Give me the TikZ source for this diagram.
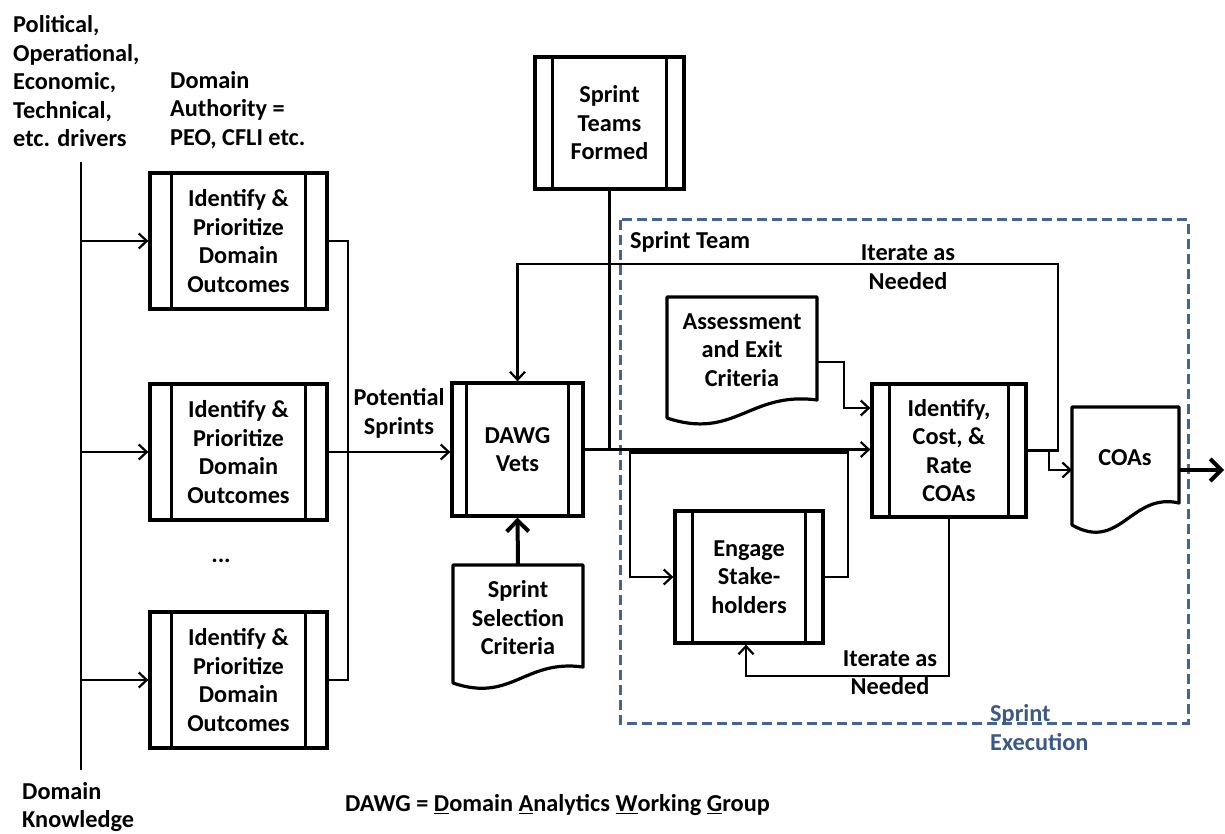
\documentclass[tikz,border=0pt]{standalone}
\usepackage{fontspec}
\setmainfont{Carlito}
\usetikzlibrary{arrows.meta,calc}
\definecolor{dashblue}{RGB}{68,101,147}
\definecolor{textblue}{RGB}{59,89,133}
% document shape: left, top, right, right-bottom y, left-bottom y
\newcommand\mydoc[5]{\draw[docline] (#1,#5) -- (#1,#2) -- (#3,#2) -- (#3,#4) .. controls ({#1+0.55*(#3-#1)},{#4-0.5*(#5-#4)}) and ({#1+0.45*(#3-#1)},{#5+1.25*(#5-#4)}) .. (#1,#5) -- cycle;}
\newcommand\procbar[2]{\draw[bar] ([xshift=#2pt]#1.north west) -- ([xshift=#2pt]#1.south west); \draw[bar] ([xshift=-#2pt]#1.north east) -- ([xshift=-#2pt]#1.south east);}
\begin{document}
\begin{tikzpicture}[x=1pt,y=-1pt,
  every node/.style={font=\fontsize{24.3}{28.5}\selectfont\bfseries, inner sep=0pt, align=center},
  procbox/.style={draw, line width=3.3pt},
  bar/.style={line width=2.7pt},
  wire/.style={line width=2.2pt},
  arr/.style={wire, -{Straight Barb[length=8pt,width=15pt]}},
  bigarr/.style={line width=4pt, -{Straight Barb[length=11pt,width=22pt]}},
  docline/.style={line width=3.2pt, line join=round},
  lbl/.style={align=left, anchor=west}]
\useasboundingbox (0,0) rectangle (1225,834);

% left texts
\node[lbl] (drivers) at (13,81.5) {Political,\\Operational,\\Economic,\\Technical,\\etc. drivers};
\node[lbl] (auth) at (170,110) {Domain\\Authority =\\PEO, CFLI etc.};
\node[lbl] (know) at (22,807) {Domain\\Knowledge};

% vertical driver line
\coordinate (vtop) at (81,162);
\coordinate (vbot) at (81,770);
\draw[wire] (vtop) -- (vbot);

% domain outcome boxes
\node[procbox, minimum width=177pt, minimum height=136pt] (p1) at (238.5,241) {Identify \&\\Prioritize\\Domain\\Outcomes};
\procbar{p1}{23}
\node[procbox, minimum width=177pt, minimum height=136pt] (p2) at (238.5,452) {Identify \&\\Prioritize\\Domain\\Outcomes};
\procbar{p2}{23}
\node[procbox, minimum width=177pt, minimum height=136pt] (p3) at (238.5,680) {Identify \&\\Prioritize\\Domain\\Outcomes};
\procbar{p3}{23}
\node (dots) at (221,561) {...};

\draw[arr] (vtop |- p1.west) -- (p1.west);
\draw[arr] (vtop |- p2.west) -- (p2.west);
\draw[arr] (vtop |- p3.west) -- (p3.west);

\coordinate (bus) at (348,0);
\draw[wire] (p1.east) -| (bus |- p3.east) -- (p3.east);

% DAWG
\node[procbox, minimum width=131pt, minimum height=133pt] (dawg) at (517.5,449.5) {DAWG\\Vets};
\procbar{dawg}{16}
\draw[arr] (p2.east) -- (dawg.west |- p2.east);
\node (pot) at (399,413.5) {Potential\\Sprints};

% Sprint selection criteria
\mydoc{453}{565}{583}{667}{683}
\node (ssc) at (518,618) {Sprint\\Selection\\Criteria};
\coordinate (ssctop) at (518,565);
\draw[bigarr] (ssctop) -- (dawg.south);

% Sprint Teams Formed
\node[procbox, minimum width=149pt, minimum height=132pt] (stf) at (609.5,123) {Sprint\\Teams\\Formed};
\procbar{stf}{19}

% Sprint execution box
\draw[dashblue, line width=3pt, dash pattern=on 10pt off 5pt] (620,220) rectangle (1188,723);
\node[lbl] (steam) at (630,242) {Sprint Team};
\node[lbl, textblue] (sexec) at (990,727.5) {Sprint\\Execution};

% Identify Cost Rate COAs
\node[procbox, minimum width=154pt, minimum height=133pt] (icoa) at (949,450.5) {Identify,\\Cost, \&\\Rate\\COAs};
\procbar{icoa}{19}

% Engage stakeholders
\node[procbox, minimum width=148pt, minimum height=132pt] (eng) at (749,577) {Engage\\Stake-\\holders};
\procbar{eng}{19}

% Assessment and exit criteria
\mydoc{667}{297}{817}{400}{418}
\node (aec) at (742,350) {Assessment\\and Exit\\Criteria};
\coordinate (aecR) at (817,362);
\coordinate (icoaIn) at ([yshift=42.5pt]icoa.west);
\draw[arr] (aecR) -- (844,362) |- (icoaIn);

% COAs
\mydoc{1072}{407}{1179}{503}{525}
\node (coas) at (1125,458) {COAs};
\coordinate (coaL) at (1072,470);
\coordinate (coaR) at (1179,470);
\coordinate (outEnd) at (1224,470);
\draw[bigarr] (coaR) -- (outEnd);

% main flow
\draw[wire] (stf.south) -- (stf.south |- dawg.east);
\draw[arr] (dawg.east) -- (dawg.east -| icoa.west);
\draw[arr] (eng.east) -| (848,452.5) -- (630,452.5) |- (eng.west);

% top iterate loop
\coordinate (loopR) at (1058,264);
\coordinate (loopL) at (dawg.north |- loopR);
\draw[arr] (icoa.east) -| (loopR) -- (loopL) -- (dawg.north);
\node (it1) at (908,267) {Iterate as\\Needed};

% branch to COAs
\coordinate (br) at (1049,0);
\draw[arr] (br |- icoa.east) |- (coaL);

% bottom iterate loop
\coordinate (bl) at (746,676);
\draw[arr] (icoa.south) |- (bl) -- (bl |- eng.south);
\node (it2) at (890,672.5) {Iterate as\\Needed};

% footnote
\node (foot) at (557.5,805) {DAWG = \underline{D}omain \underline{A}nalytics \underline{W}orking \underline{G}roup};
\end{tikzpicture}
\end{document}
